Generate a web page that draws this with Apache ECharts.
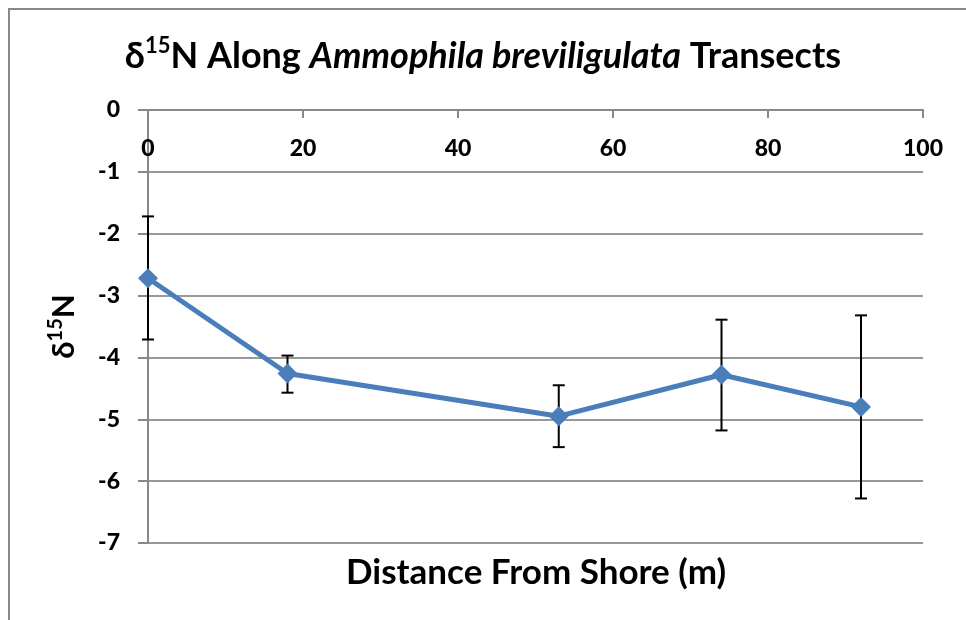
<!DOCTYPE html>
<html>
<head>
<meta charset="utf-8">
<script src="https://cdn.jsdelivr.net/npm/echarts@6/dist/echarts.min.js"></script>
<style>
  html, body { margin: 0; padding: 0; background: #fff; }
  #chart { width: 966px; height: 620px; }
</style>
</head>
<body>
<div id="chart"></div>
<script>
// delta 15N means along the transects, with error bar ends
var distances = [0, 18, 53, 74, 92];
var means = [-2.72, -4.26, -4.95, -4.28, -4.80];
var upperEnds = [-1.72, -3.97, -4.45, -3.39, -3.32];
var lowerEnds = [-3.71, -4.57, -5.45, -5.18, -6.28];
var xTicks = [0, 100, 20];   // min, max, interval
var yTicks = [-7, 0, 1];

var font = 'Lato, "Open Sans", sans-serif';
var chart = echarts.init(document.getElementById('chart'));

var lineData = [];
var errData = [];
for (var i = 0; i < distances.length; i++) {
  lineData.push([distances[i], means[i]]);
  errData.push([distances[i], lowerEnds[i], upperEnds[i]]);
}

chart.setOption({
  animation: false,
  title: {
    text: '{b|δ}{sup|15}{b|N Along }{i|Ammophila breviligulata}{b| Transects}',
    left: 'center',
    top: 30,
    textStyle: {
      rich: {
        b: { fontFamily: font, fontWeight: 'bold', fontSize: 36, color: '#000', lineHeight: 42 },
        i: { fontFamily: font, fontWeight: 'bold', fontStyle: 'italic', fontSize: 36, color: '#000', lineHeight: 42 },
        sup: { fontFamily: font, fontWeight: 'bold', fontSize: 22, color: '#000', lineHeight: 42, verticalAlign: 'top', padding: [0, 0, 12, 0] }
      }
    }
  },
  graphic: [
    { type: 'rect', shape: { x: 9, y: 9, width: 1000, height: 1000 }, style: { fill: 'none', stroke: '#888', lineWidth: 2 }, silent: true },
    { type: 'text', style: { x: 536, y: 573, text: 'Distance From Shore (m)', font: 'bold 35px ' + font, fill: '#000', align: 'center', verticalAlign: 'middle' } }
  ],
  grid: { left: 148, right: 43, top: 110, bottom: 77 },
  xAxis: {
    type: 'value',
    position: 'top',
    min: xTicks[0], max: xTicks[1], interval: xTicks[2],
    axisLine: { show: true, onZero: false, lineStyle: { color: '#888', width: 2 } },
    axisTick: { show: true, inside: true, length: 8, lineStyle: { color: '#888', width: 2 } },
    axisLabel: { inside: true, margin: 27, fontFamily: font, fontWeight: 900, fontSize: 23, color: '#000' },
    splitLine: { show: false }
  },
  yAxis: {
    type: 'value',
    min: yTicks[0], max: yTicks[1], interval: yTicks[2],
    name: '{b|δ}{sup|15}{b|N}',
    nameLocation: 'middle',
    nameRotate: 90,
    nameGap: 66,
    nameTextStyle: {
      rich: {
        b: { fontFamily: font, fontWeight: 'bold', fontSize: 31, color: '#000', lineHeight: 36 },
        sup: { fontFamily: font, fontWeight: 'bold', fontSize: 20, color: '#000', lineHeight: 36, verticalAlign: 'top', padding: [0, 0, 10, 0] }
      }
    },
    axisLine: { show: true, onZero: false, lineStyle: { color: '#888', width: 2 } },
    axisTick: { show: true, length: 10, lineStyle: { color: '#888', width: 2 } },
    axisLabel: { margin: 28, fontFamily: font, fontWeight: 900, fontSize: 23, color: '#000' },
    splitLine: { show: true, lineStyle: { color: '#999', width: 2 } }
  },
  series: [
    {
      type: 'custom',
      name: 'error',
      z: 3,
      data: errData,
      renderItem: function (params, api) {
        var x = api.value(0);
        var lo = api.coord([x, api.value(1)]);
        var hi = api.coord([x, api.value(2)]);
        var half = 6;
        var st = { stroke: '#000', lineWidth: 2 };
        return {
          type: 'group',
          children: [
            { type: 'line', shape: { x1: lo[0], y1: lo[1], x2: hi[0], y2: hi[1] }, style: st },
            { type: 'line', shape: { x1: lo[0] - half, y1: lo[1], x2: lo[0] + half, y2: lo[1] }, style: st },
            { type: 'line', shape: { x1: hi[0] - half, y1: hi[1], x2: hi[0] + half, y2: hi[1] }, style: st }
          ]
        };
      }
    },
    {
      type: 'line',
      name: 'mean',
      z: 4,
      data: lineData,
      symbol: 'diamond',
      symbolSize: 20,
      lineStyle: { color: '#4A7EBB', width: 5 },
      itemStyle: { color: '#4A7EBB' }
    }
  ]
});
</script>
</body>
</html>
